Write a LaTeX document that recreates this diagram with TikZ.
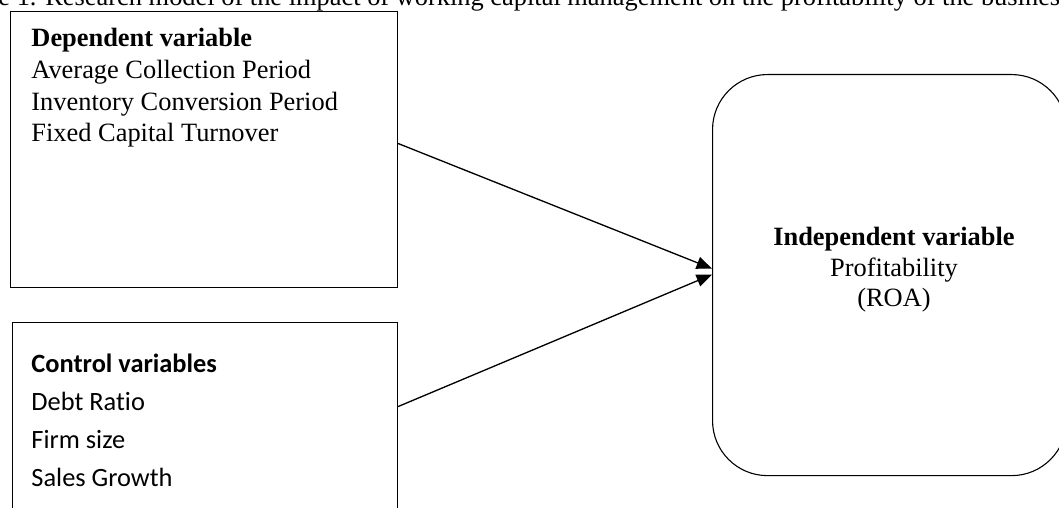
\documentclass[tikz,border=0pt]{standalone}
\usepackage{fontspec}
\setmainfont{Liberation Serif}
\newfontfamily\calibri[Ligatures=NoCommon]{Carlito}
\usetikzlibrary{arrows.meta,calc}
\begin{document}
\begin{tikzpicture}[x=0.4545pt,y=-0.4545pt,
  box/.style={draw=black,line width=0.5pt,inner sep=0pt,anchor=north west},
  link/.style={draw=black,line width=0.6pt,-{Triangle[length=7pt,width=5.6pt]}},
  txt/.style={inner sep=0pt,align=left,anchor=base west},
  timesfont/.style={font=\fontsize{12}{14.4}\selectfont},
  calfont/.style={font=\calibri\fontsize{12}{17.3}\selectfont}
]
\useasboundingbox (0,0) rectangle (1059,508);
\clip (0,0) rectangle (1059,508);

% title (cut off by the picture's edges)
\node[inner sep=0pt,anchor=base west,font=\fontsize{12}{14}\selectfont] (title) at (-2,6)
  {e 1. Research model of the impact of working capital management on the profitability of the busines};

% boxes
\node[box,minimum width=175.9pt,minimum height=125.4pt] (dep) at (10,11) {};
\node[box,minimum width=175.0pt,minimum height=90.9pt] (ctrl) at (12,322) {};
\node[box,rounded corners=25pt,minimum width=160.9pt,minimum height=182.3pt] (roa) at (712,74) {};

% texts (anchor = baseline of the last line)
\node[txt,timesfont] (deptxt) at (31,142)
  {\textbf{Dependent variable}\\Average Collection Period\\Inventory Conversion Period\\Fixed Capital Turnover};
\node[txt,calfont] (ctrltxt) at (31,487)
  {\textbf{Control variables}\\Debt Ratio\\Firm size\\Sales Growth};
\node[inner sep=0pt,align=center,anchor=base,font=\fontsize{12}{13.9}\selectfont] (roatxt) at (894,307)
  {\textbf{Independent variable}\\Profitability\\(ROA)};

% connectors
\coordinate (depout) at ($(dep.east)+(0,-6)$);
\coordinate (ctrlout) at ($(ctrl.east)+(0,-16)$);
\coordinate (roain1) at ($(roa.west)+(0,-6.5)$);
\coordinate (roain2) at ($(roa.west)+(0,-0.5)$);
\draw[link] (depout) -- (roain1);
\draw[link] (ctrlout) -- (roain2);
\end{tikzpicture}
\end{document}
